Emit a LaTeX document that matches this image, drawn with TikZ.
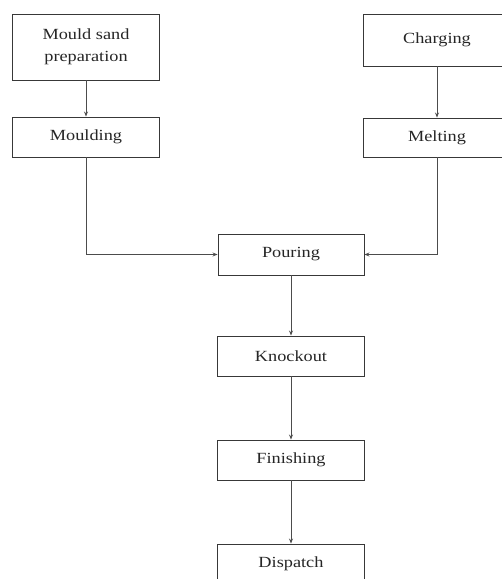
\documentclass[tikz,border=0pt]{standalone}
\usepackage{fontspec}
\setmainfont{Liberation Serif}[FakeStretch=1.18]
\usetikzlibrary{arrows.meta}
\begin{document}
\begin{tikzpicture}[x=1pt,y=-1pt,
  box/.style={draw=black!78, line width=0.9pt, fill=white, minimum width=147pt, minimum height=40pt,
    inner sep=2pt, align=center, font=\fontsize{15.5}{22}\selectfont, text=black!85},
  arr/.style={draw=black!70, line width=0.9pt, -{Stealth[length=5pt,width=4pt]}}]
\useasboundingbox (0,0) rectangle (502,579);
\clip (0,0) rectangle (502,579);
\node[box, minimum height=66pt] (msp) at (86,47) {Mould sand\\preparation};
\node[box] (mld) at (86,137) {Moulding};
\node[box, minimum height=52pt] (chg) at (437,40) {Charging};
\node[box, minimum height=39pt] (mlt) at (437,137.5) {Melting};
\node[box, minimum width=146pt, minimum height=41pt] (pour) at (291,254.5) {Pouring};
\node[box] (ko) at (291,356) {Knockout};
\node[box] (fin) at (291,460) {Finishing};
\node[box] (dis) at (291,564) {Dispatch};
\draw[arr] (msp.south) -- (mld.north);
\draw[arr] (chg.south) -- (mlt.north);
\draw[arr] (mld.south) |- (pour.west);
\draw[arr] (mlt.south) |- (pour.east);
\draw[arr] (pour.south) -- (ko.north);
\draw[arr] (ko.south) -- (fin.north);
\draw[arr] (fin.south) -- (dis.north);
\end{tikzpicture}
\end{document}
